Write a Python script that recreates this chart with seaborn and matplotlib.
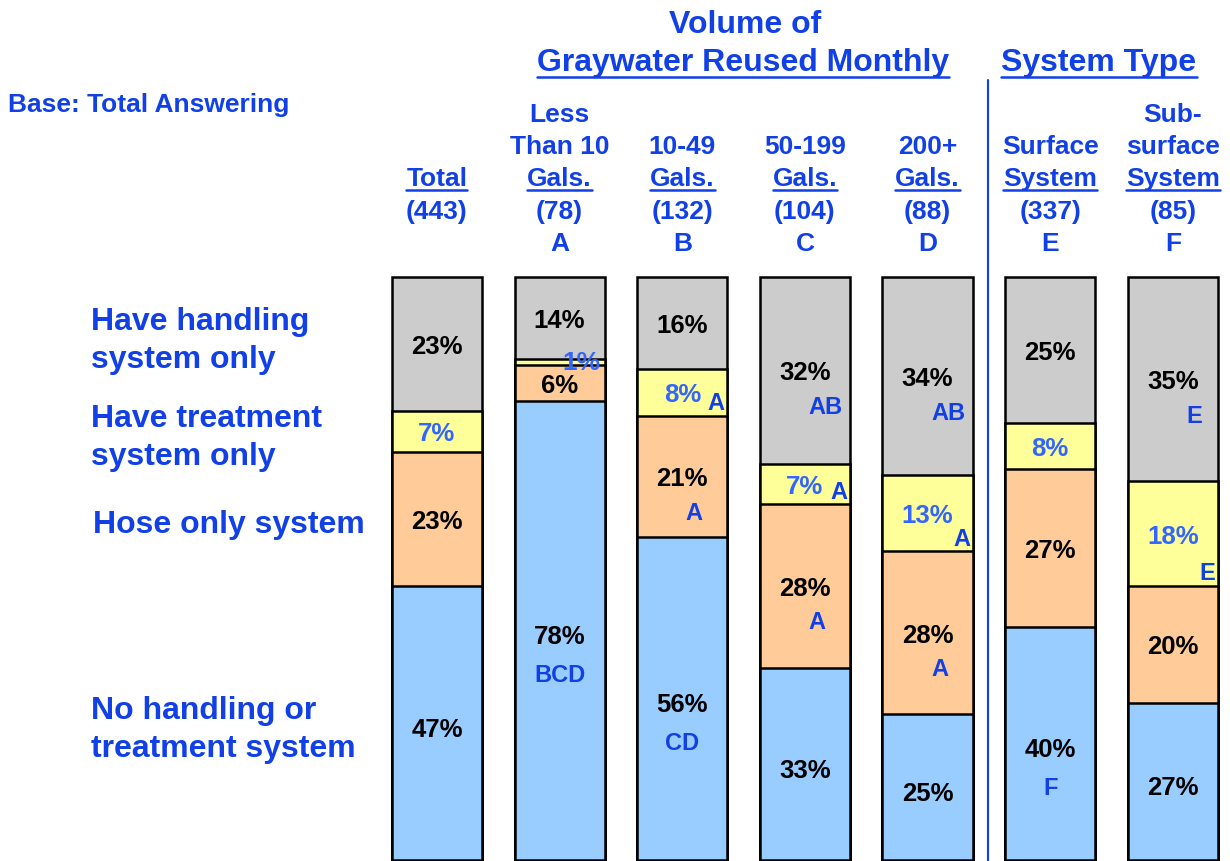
import matplotlib
matplotlib.use("Agg")

import matplotlib.pyplot as plt
import matplotlib.transforms as mtransforms
from matplotlib.lines import Line2D
import numpy as np
import pandas as pd
import seaborn as sns

# ---- data ----
groups = ["Total", "A", "B", "C", "D", "E", "F"]
header_lines = [
    ["Total"],
    ["Less", "Than 10", "Gals."],
    ["10-49", "Gals."],
    ["50-199", "Gals."],
    ["200+", "Gals."],
    ["Surface", "System"],
    ["Sub-", "surface", "System"],
]
bases = [443, 78, 132, 104, 88, 337, 85]
col_letters = ["", "A", "B", "C", "D", "E", "F"]

segments = [
    "No handling or\ntreatment system",
    "Hose only system",
    "Have treatment\nsystem only",
    "Have handling\nsystem only",
]
no_system = [47, 78, 56, 33, 25, 40, 27]
hose_only = [23, 6, 21, 28, 28, 27, 20]
treatment_only = [7, 1, 8, 7, 13, 8, 18]
handling_only = [23, 14, 16, 32, 34, 25, 35]

sig_no_system = ["", "BCD", "CD", "", "", "F", ""]
sig_hose = ["", "", "A", "A", "A", "", ""]
sig_treatment = ["", "", "A", "A", "A", "", "E"]
sig_handling = ["", "", "", "AB", "AB", "", "E"]

seg_colors = ["#99CCFF", "#FFCC99", "#FFFF99", "#CCCCCC"]
BLUE = "#1040E6"
LIGHT_BLUE = "#3366FF"

W, H, DPI = 1230, 861, 100
DROP = 3  # matplotlib centres on the full box, nudge text down a little


def fx(px):
    return px / W


def fy(py):
    return 1 - (py + DROP) / H


def main() -> None:
    sns.set_style("white")
    plt.rcParams["font.family"] = ["Liberation Sans", "DejaVu Sans"]
    plt.rcParams["font.weight"] = "bold"

    values = np.array([no_system, hose_only, treatment_only, handling_only],
                      dtype=float)
    shares = values / values.sum(axis=0) * 100  # bars fill the full height
    tops = shares.cumsum(axis=0)
    bottoms = tops - shares
    sigs = [sig_no_system, sig_hose, sig_treatment, sig_handling]

    rows = []
    for s in range(len(segments)):
        for g in range(len(groups)):
            rows.append(dict(group=groups[g], seg=s, value=values[s, g],
                             top=tops[s, g], bottom=bottoms[s, g],
                             sig=sigs[s][g]))
    df = pd.DataFrame(rows)

    fig = plt.figure(figsize=(W / DPI, H / DPI), dpi=DPI)
    ax = fig.add_axes([fx(381.8), 1 - 860 / H, fx(846.2), 583 / H])

    # stacked bars: draw cumulative heights from the top segment down
    for s in reversed(range(len(segments))):
        sns.barplot(data=df[df.seg == s], x="group", y="top", order=groups,
                    color=seg_colors[s], saturation=1, width=0.735,
                    edgecolor="black", linewidth=1.8, errorbar=None, ax=ax)
    for p in ax.patches:
        p.set_clip_on(False)
    ax.set_xlim(-0.45, 6.45)
    ax.set_ylim(0, 100)
    ax.axis("off")

    px_per_unit = 583 / 100
    for _, r in df.iterrows():
        gi = groups.index(r.group)
        mid = (r.top + r.bottom) / 2
        seg_px = (r.top - r.bottom) * px_per_unit
        color = LIGHT_BLUE if r.seg == 2 else "black"
        thin = seg_px < 15
        if thin:
            pct_off = (22, -1)
        elif r.seg == 0:
            pct_off = (0, -7)
        else:
            pct_off = (0, -3)
        ax.annotate(f"{int(r.value)}%", xy=(gi, mid), xytext=pct_off,
                    textcoords="offset pixels", ha="center", va="center",
                    fontsize=18.5 if not thin else 19, color=color,
                    fontweight="bold")
        if r.sig:
            if r.seg == 2:
                # tucked into the lower right corner of the yellow block
                xy = (gi, r.bottom)
                off = (34, 12)
            elif r.seg == 0:
                xy = (gi, mid)
                off = (0, pct_off[1] - 38)
            else:
                xy = (gi, mid)
                off = (21 if r.seg == 3 else 12, pct_off[1] - 34)
            ax.annotate(r.sig, xy=xy, xytext=off,
                        textcoords="offset pixels", ha="center", va="center",
                        fontsize=17, color=BLUE, fontweight="bold")

    # left-hand row labels
    left_y = [727, 522, 435, 338]
    left_x = [91, 93, 91, 91]
    for s, lab in enumerate(segments):
        fig.text(fx(left_x[s]), fy(left_y[s]), lab, ha="left", va="center",
                 fontsize=23, color=BLUE, linespacing=1.32)

    fig.text(fx(8), fy(102), "Base: Total Answering", ha="left",
             va="center", fontsize=19, color=BLUE)

    # column headers
    trans = mtransforms.blended_transform_factory(ax.transData,
                                                  fig.transFigure)
    underlined = []
    for gi, lines in enumerate(header_lines):
        n = len(lines)
        for k, line in enumerate(lines):
            y = 176 - (n - 1 - k) * 32
            t = fig.text(gi, fy(y), line, transform=trans, ha="center",
                         va="center", fontsize=19, color=BLUE)
            if k == n - 1:
                underlined.append(t)
        fig.text(gi, fy(209), f"({bases[gi]})", transform=trans,
                 ha="center", va="center", fontsize=19, color=BLUE)
        if col_letters[gi]:
            fig.text(gi, fy(241), col_letters[gi], transform=trans,
                     ha="center", va="center", fontsize=19, color=BLUE)

    fig.text(fx(745), fy(22), "Volume of", ha="center", va="center",
             fontsize=23, color=BLUE)
    underlined.append(fig.text(fx(743), fy(60), "Graywater Reused Monthly",
                               ha="center", va="center", fontsize=23,
                               color=BLUE))
    underlined.append(fig.text(fx(1099), fy(60), "System Type", ha="center",
                               va="center", fontsize=23, color=BLUE))

    # divider between volume and system type
    fig.add_artist(Line2D([fx(988), fx(988)], [1 - 80 / H, 0], color=BLUE,
                          linewidth=1.5))

    fig.canvas.draw()
    renderer = fig.canvas.get_renderer()
    for t in underlined:
        bb = t.get_window_extent(renderer)
        y = bb.y0 + 1
        fig.add_artist(Line2D([bb.x0 / W, bb.x1 / W], [y / H, y / H],
                              color=BLUE, linewidth=1.8))

    fig.savefig("out.png", dpi=DPI)


if __name__ == "__main__":
    main()
